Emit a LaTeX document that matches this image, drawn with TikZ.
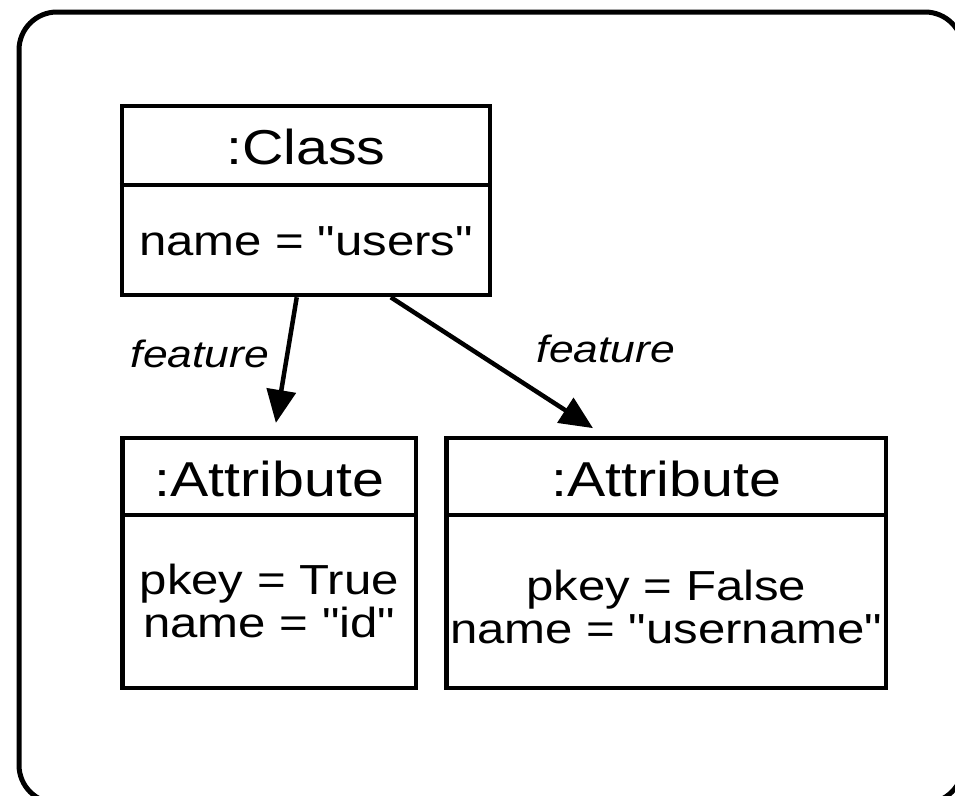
\documentclass[tikz,border=0pt]{standalone}
\usepackage{fontspec}
\setmainfont{Liberation Sans}[FakeStretch=1.17, Ligatures=TeXOff]
\usetikzlibrary{arrows.meta,calc}
\begin{document}
\begin{tikzpicture}[x=1pt,y=-1pt,
  box/.style={draw, line width=4.5pt, inner sep=0pt},
  sep/.style={line width=4.5pt},
  hdr/.style={font=\fontsize{49}{49}\selectfont, anchor=base, inner sep=0pt},
  body/.style={font=\fontsize{42}{42}\selectfont, anchor=base, inner sep=0pt},
  lbl/.style={font=\fontsize{38}{38}\selectfont\itshape, anchor=base, inner sep=0pt},
  arr/.style={line width=4.5pt, -{Triangle[length=33pt,width=29pt]}}
]
\useasboundingbox (0,0) rectangle (955,795);
\clip (0,0) rectangle (955,795);
\draw[line width=5pt, rounded corners=38pt] (19,12) rectangle (963,803);

% Class box
\node[box, minimum width=368pt, minimum height=189pt] (cls) at (306,200.5) {};
\draw[sep] ($(cls.north west)+(0,81)$) -- ($(cls.north east)+(0,81)$);
\node[hdr] (clsh) at (306,164) {:Class};
\node[body] (clsb) at (306,255) {name = "users"};

% Attribute 1
\node[box, minimum width=293.5pt, minimum height=250pt] (a1) at (269.25,563) {};
\draw[sep] ($(a1.north west)+(0,79)$) -- ($(a1.north east)+(0,79)$);
\node[hdr] (a1h) at (269.25,496) {:Attribute};
\node[body] (a1b1) at (269.25,594) {pkey = True};
\node[body] (a1b2) at (269.25,637) {name = "id"};

% Attribute 2
\node[box, minimum width=439.5pt, minimum height=250pt] (a2) at (666.25,563) {};
\draw[sep] ($(a2.north west)+(0,79)$) -- ($(a2.north east)+(0,79)$);
\node[hdr] (a2h) at (666.25,496) {:Attribute};
\node[body] (a2b1) at (666.25,600) {pkey = False};
\node[body] (a2b2) at (666.25,643) {name = "username"};

% connectors
\draw[arr, shorten >=13pt] ($(cls.south west)+(177,0)$) -- ($(a1.north west)+(153.5,0)$);
\draw[arr, shorten >=14pt] ($(cls.south west)+(271,0)$) -- ($(a2.north west)+(160.5,0)$);

\node[lbl] (l1) at (200,367) {feature};
\node[lbl] (l2) at (606,362) {feature};
\end{tikzpicture}
\end{document}
